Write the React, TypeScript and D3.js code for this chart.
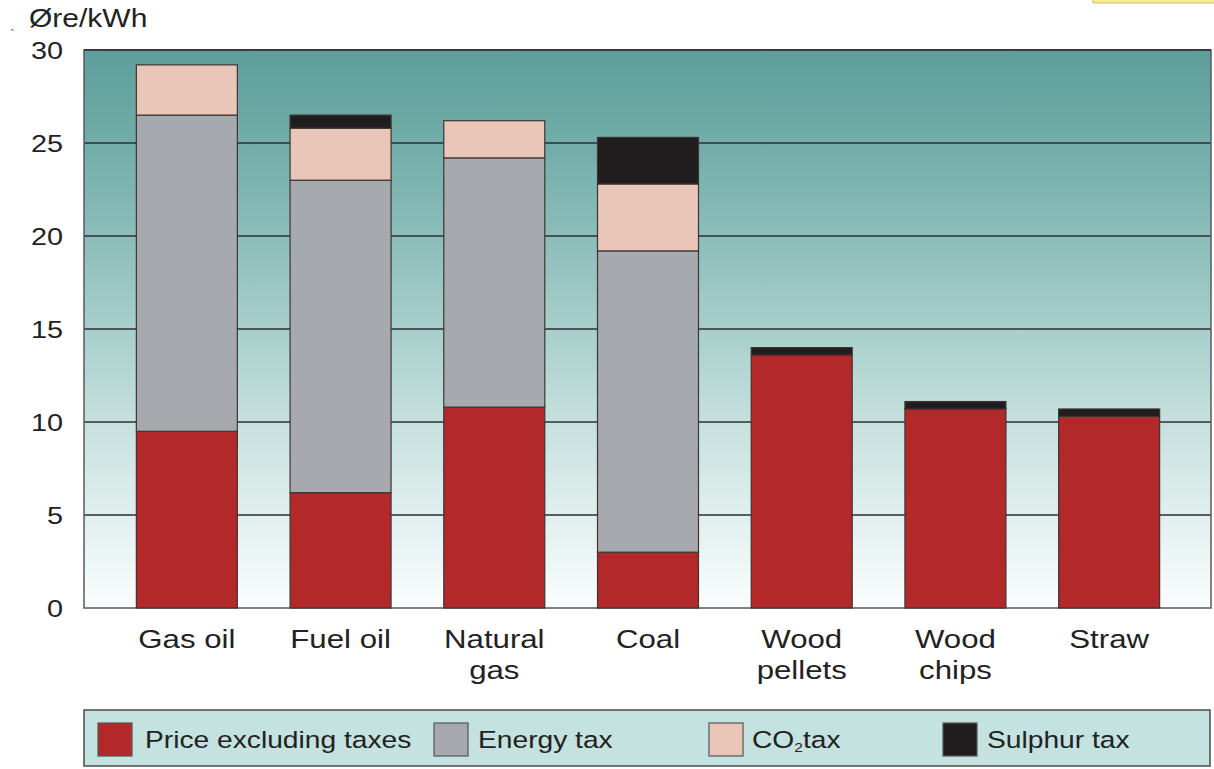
import { useMemo } from 'react';
import * as d3 from 'd3';

const categories = ['Gas oil', 'Fuel oil', 'Natural gas', 'Coal', 'Wood pellets', 'Wood chips', 'Straw'];
const categoryLines = [['Gas oil'], ['Fuel oil'], ['Natural', 'gas'], ['Coal'], ['Wood', 'pellets'], ['Wood', 'chips'], ['Straw']];
const price = [9.5, 6.2, 10.8, 3.0, 13.6, 10.7, 10.3];
const energyTax = [17.0, 16.8, 13.4, 16.2, 0, 0, 0];
const co2Tax = [2.7, 2.8, 2.0, 3.6, 0, 0, 0];
const sulphurTax = [0, 0.7, 0, 2.5, 0.4, 0.4, 0.4];
const yTicks = [0, 5, 10, 15, 20, 25, 30];

const SERIES = [
  { key: 'price', label: 'Price excluding taxes', color: '#b3292a' },
  { key: 'energy', label: 'Energy tax', color: '#a6a9ad' },
  { key: 'co2', label: 'CO2 tax', color: '#e9c6b8' },
  { key: 'sulphur', label: 'Sulphur tax', color: '#1f1d1e' },
];

const W = 1214;
const H = 769;
const plot = { left: 84, right: 1211, top: 50, bottom: 608 };
const FONT = 'Liberation Sans, Arial, Helvetica, sans-serif';
const STRETCH = 1.2;

export default function App() {
  const rows = useMemo(
    () =>
      categories.map((c, i) => ({
        cat: c,
        price: price[i],
        energy: energyTax[i],
        co2: co2Tax[i],
        sulphur: sulphurTax[i],
      })),
    []
  );

  const stacked = useMemo(
    () => d3.stack<any>().keys(SERIES.map(s => s.key))(rows),
    [rows]
  );

  const x = d3.scaleBand<string>()
    .domain(categories)
    .range([110, 1186])
    .paddingInner(0.343)
    .paddingOuter(0.1715);

  const y = d3.scaleLinear().domain([0, 30]).range([plot.bottom, plot.top]);

  // legend positions (x of swatch, x of text)
  const legendPos = [
    { sx: 98, tx: 145 },
    { sx: 434, tx: 478 },
    { sx: 709, tx: 752 },
    { sx: 943, tx: 987 },
  ];

  return (
    <svg
      width={W}
      height={H}
      style={{ position: 'absolute', left: 0, top: 0, background: '#ffffff' }}
      fontFamily={FONT}
    >
      <defs>
        <linearGradient id="bgGrad" x1="0" y1="0" x2="0" y2="1">
          <stop offset="0%" stopColor="#5e9e9b" />
          <stop offset="18%" stopColor="#73aeaa" />
          <stop offset="35%" stopColor="#8fbfbb" />
          <stop offset="52%" stopColor="#abd1cd" />
          <stop offset="68%" stopColor="#c8e2df" />
          <stop offset="84%" stopColor="#e1f0ef" />
          <stop offset="100%" stopColor="#fbfdfd" />
        </linearGradient>
      </defs>

      {/* small yellow box at the top right */}
      <rect x={1093} y={-4} width={125} height={7} fill="#f6eb8e" stroke="#c9c07a" strokeWidth={1} />

      {/* stray mark near the unit label */}
      <text x={10} y={40} fontSize={14} fill="#555">`</text>

      {/* plot background */}
      <rect
        x={plot.left}
        y={plot.top}
        width={plot.right - plot.left}
        height={plot.bottom - plot.top}
        fill="url(#bgGrad)"
      />

      {/* grid lines */}
      {yTicks.filter(t => t > 0 && t < 30).map(t => (
        <line
          key={t}
          x1={plot.left}
          x2={plot.right}
          y1={y(t)}
          y2={y(t)}
          stroke="#2e2e33"
          strokeWidth={1.6}
        />
      ))}

      <rect
        x={plot.left}
        y={plot.top}
        width={plot.right - plot.left}
        height={plot.bottom - plot.top}
        fill="none"
        stroke="#5a5a5e"
        strokeWidth={1.5}
      />
      <line x1={plot.left} x2={plot.right} y1={plot.top} y2={plot.top} stroke="#3a3a40" strokeWidth={2} />

      {/* bars */}
      {stacked.map((layer, si) => (
        <g key={layer.key}>
          {layer.map((d, i) => {
            const h = y(d[0]) - y(d[1]);
            if (h <= 0) return null;
            return (
              <rect
                key={i}
                x={x(categories[i])}
                y={y(d[1])}
                width={x.bandwidth()}
                height={h}
                fill={SERIES[si].color}
                stroke="#3d3535"
                strokeWidth={1.2}
              />
            );
          })}
        </g>
      ))}

      {/* y axis labels */}
      {yTicks.map(t => (
        <text
          key={t}
          transform={`translate(63,${y(t) + 8.5}) scale(${STRETCH},1)`}
          textAnchor="end"
          fontSize={24}
          fill="#222"
        >
          {t}
        </text>
      ))}
      <text transform={`translate(29,27) scale(${STRETCH},1)`} fontSize={25} fill="#222">
        Øre/kWh
      </text>

      {/* category labels */}
      {categories.map((c, i) => (
        <g key={c}>
          {categoryLines[i].map((line, li) => (
            <text
              key={li}
              transform={`translate(${(x(c) ?? 0) + x.bandwidth() / 2},${648 + li * 31}) scale(${STRETCH},1)`}
              textAnchor="middle"
              fontSize={26}
              fill="#222"
            >
              {line}
            </text>
          ))}
        </g>
      ))}

      {/* legend */}
      <rect x={84} y={710} width={1126} height={56} fill="#c4e2df" stroke="#4a4a4e" strokeWidth={1.5} />
      {SERIES.map((s, i) => (
        <g key={s.key}>
          <rect x={legendPos[i].sx} y={723} width={34} height={33} fill={s.color} stroke="#555" strokeWidth={1.2} />
          <text
            transform={`translate(${legendPos[i].tx},748) scale(${STRETCH},1)`}
            fontSize={23.5}
            fill="#222"
          >
            {s.key === 'co2' ? (
              <>
                CO<tspan fontSize={13} dy={4}>2</tspan>
                <tspan dy={-4}>tax</tspan>
              </>
            ) : (
              s.label
            )}
          </text>
        </g>
      ))}
    </svg>
  );
}
